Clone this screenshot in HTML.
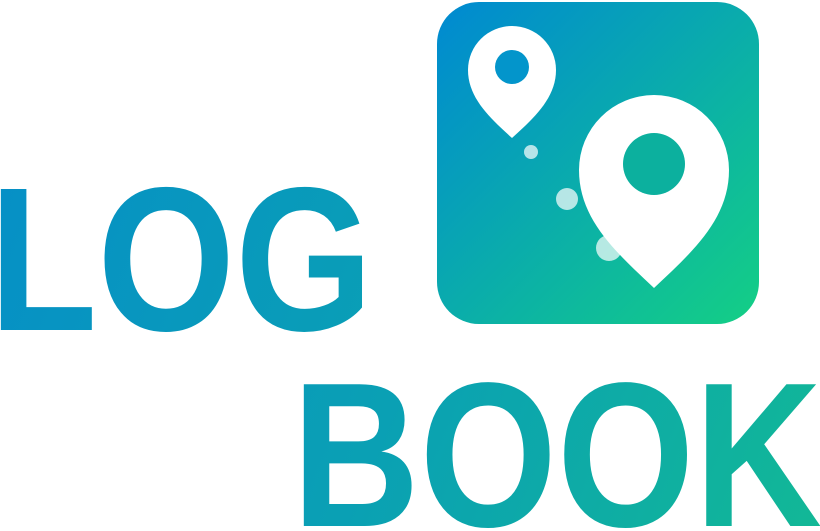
<!DOCTYPE html>
<html><head><meta charset="utf-8"><style>
html,body{margin:0;padding:0;background:#fff;width:820px;height:531px;overflow:hidden}
svg{display:block}
</style></head><body>
<svg width="820" height="531" viewBox="0 0 820 531" xmlns="http://www.w3.org/2000/svg" overflow="hidden">
<defs>
<linearGradient id="sq" x1="0" y1="0" x2="1" y2="1">
<stop offset="0" stop-color="#0089d2"/><stop offset="1" stop-color="#14cf85"/>
</linearGradient>
<linearGradient id="txt" gradientUnits="userSpaceOnUse" x1="0" y1="180" x2="820" y2="531">
<stop offset="0" stop-color="#0690c6"/><stop offset="0.5" stop-color="#0aa0b4"/><stop offset="1" stop-color="#12b896"/>
</linearGradient>
</defs>
<text x="-11" y="330" font-family="Liberation Sans, sans-serif" font-weight="bold" font-size="205" fill="url(#txt)" textLength="384" lengthAdjust="spacingAndGlyphs">LOG</text>
<text x="292" y="526" font-family="Liberation Sans, sans-serif" font-weight="bold" font-size="206" fill="url(#txt)" textLength="530" lengthAdjust="spacingAndGlyphs">BOOK</text>
<g>
<rect x="437" y="2" width="322" height="322" rx="42" fill="url(#sq)"/>
<circle cx="531" cy="152" r="7" fill="#fff" opacity="0.7"/>
<circle cx="567" cy="199" r="11" fill="#fff" opacity="0.7"/>
<circle cx="609" cy="248" r="13" fill="#fff" opacity="0.7"/>
<path d="M512,138 C490,118 468,98 468,70 A44,44 0 0 1 556,70 C556,98 534,118 512,138 Z" fill="#fff"/>
<circle cx="512" cy="67" r="17" fill="#0395cb"/>
<path d="M654,288 C617,253 579,220 579,170 A75,75 0 0 1 729,170 C729,220 691,253 654,288 Z" fill="#fff"/>
<circle cx="654" cy="164" r="31" fill="#0cb09e"/>
</g>
</svg>
</body></html>
